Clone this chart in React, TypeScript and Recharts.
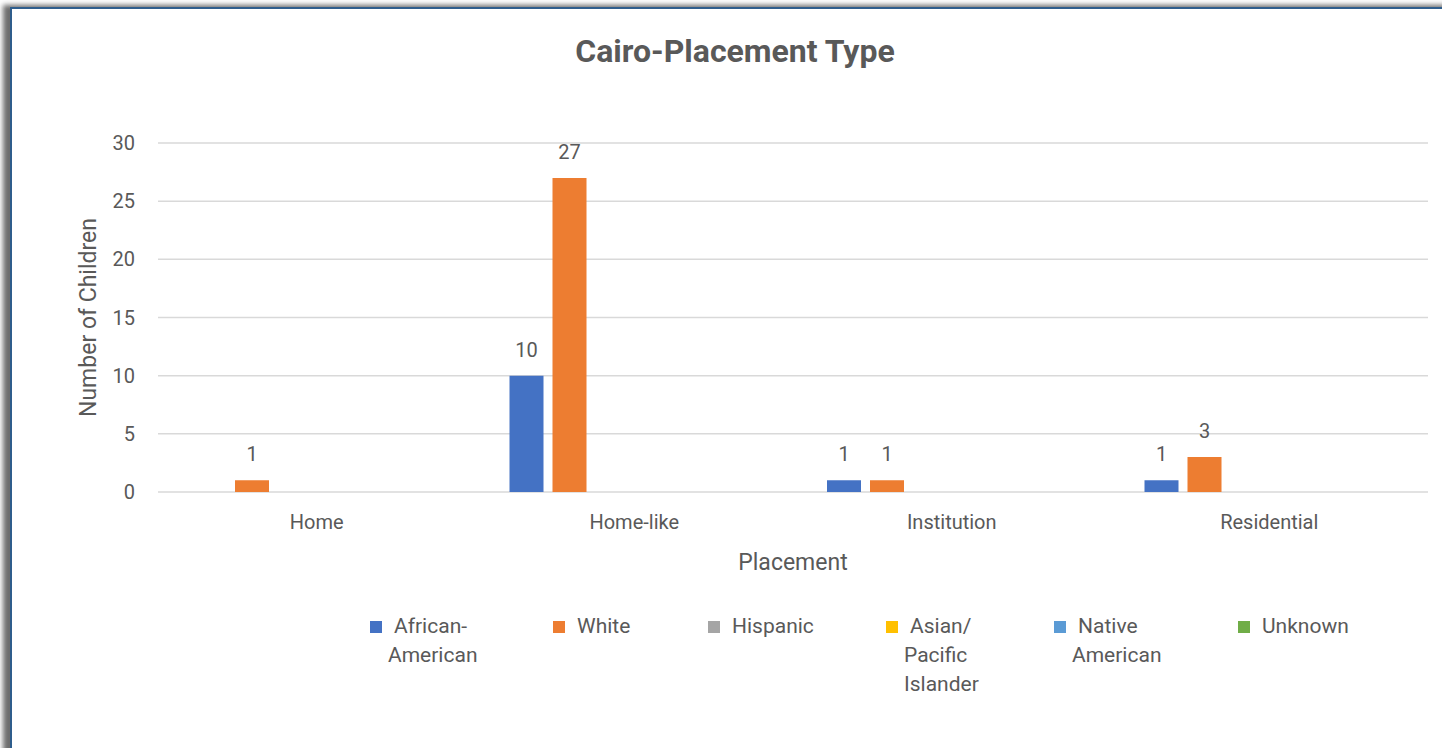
import React from "react";
import { BarChart, Bar, XAxis, YAxis, CartesianGrid, LabelList } from "recharts";

const placements = ["Home", "Home-like", "Institution", "Residential"];
const africanAmerican = [null, 10, 1, 1];
const white = [1, 27, 1, 3];
const hispanic = [null, null, null, null];
const asianPacific = [null, null, null, null];
const nativeAmerican = [null, null, null, null];
const unknown = [null, null, null, null];
const yTicks = [0, 5, 10, 15, 20, 25, 30];

const series = [
  { key: "aa", name: "African-American", values: africanAmerican, color: "#4472C4" },
  { key: "white", name: "White", values: white, color: "#ED7D31" },
  { key: "hisp", name: "Hispanic", values: hispanic, color: "#A5A5A5" },
  { key: "asian", name: "Asian/ Pacific Islander", values: asianPacific, color: "#FFC000" },
  { key: "native", name: "Native American", values: nativeAmerican, color: "#5B9BD5" },
  { key: "unk", name: "Unknown", values: unknown, color: "#70AD47" },
];

const data = placements.map((p, i) => {
  const row: Record<string, string | number | null> = { placement: p };
  series.forEach((s) => (row[s.key] = s.values[i]));
  return row;
});

// left edge of each legend entry (Excel spaces them by wrapped text width)
const legendLeft = [370, 553, 708, 886, 1054, 1238];

const FONT = "Roboto, 'Open Sans', sans-serif";
const TEXT = "#595959";

export default function App() {
  return (
    <div style={{ position: "absolute", left: 0, top: 0, width: 1442, height: 748, background: "#fff", overflow: "hidden", fontFamily: FONT }}>
      <div
        style={{
          position: "absolute",
          left: 10,
          top: 7,
          width: 1460,
          height: 760,
          borderLeft: "2px solid #2F5D8C",
          borderTop: "2px solid #2F5D8C",
          boxShadow: "-8px -3px 5px -1px rgba(60,60,60,0.75)",
          background: "#fff",
        }}
      />
      <div style={{ position: "absolute", left: 435, width: 600, top: 32, textAlign: "center", fontSize: 32, fontWeight: 700, color: TEXT }}>
        Cairo-Placement Type
      </div>
      <div style={{ position: "absolute", left: 0, top: 0 }}>
        <BarChart
          width={1442}
          height={748}
          data={data}
          margin={{ top: 143, right: 14, bottom: 216, left: 98 }}
          barSize={34}
          barGap={9}
        >
          <CartesianGrid vertical={false} stroke="#D9D9D9" strokeWidth={1.5} />
          <XAxis
            dataKey="placement"
            height={40}
            axisLine={false}
            tickLine={false}
            tickMargin={17}
            tick={{ fill: TEXT, fontSize: 20, fontFamily: FONT }}
            label={{ value: "Placement", position: "bottom", offset: 22, fill: TEXT, fontSize: 23, fontFamily: FONT }}
          />
          <YAxis
            width={60}
            domain={[0, 30]}
            ticks={yTicks}
            axisLine={false}
            tickLine={false}
            tickMargin={17}
            tick={{ fill: TEXT, fontSize: 20, fontFamily: FONT }}
            label={{
              value: "Number of Children",
              angle: -90,
              position: "insideLeft",
              offset: -10,
              fill: TEXT,
              fontSize: 23,
              fontFamily: FONT,
              style: { textAnchor: "middle" },
            }}
          />
          {series.map((s) => (
            <Bar key={s.key} dataKey={s.key} name={s.name} fill={s.color} isAnimationActive={false}>
              <LabelList
                dataKey={s.key}
                position="top"
                offset={19}
                fill={TEXT}
                fontSize={20}
                fontFamily={FONT}
                formatter={(v: unknown) => (v == null ? "" : String(v))}
              />
            </Bar>
          ))}
        </BarChart>
      </div>
      {series.map((s, i) => (
        <div key={s.key} style={{ position: "absolute", left: legendLeft[i], top: 612, display: "flex", alignItems: "flex-start" }}>
          <span style={{ width: 12, height: 12, background: s.color, marginTop: 9, flex: "none" }} />
          <span style={{ marginLeft: 6, width: 100, fontSize: 21, lineHeight: "29px", color: TEXT, textIndent: 6 }}>{s.name}</span>
        </div>
      ))}
    </div>
  );
}
